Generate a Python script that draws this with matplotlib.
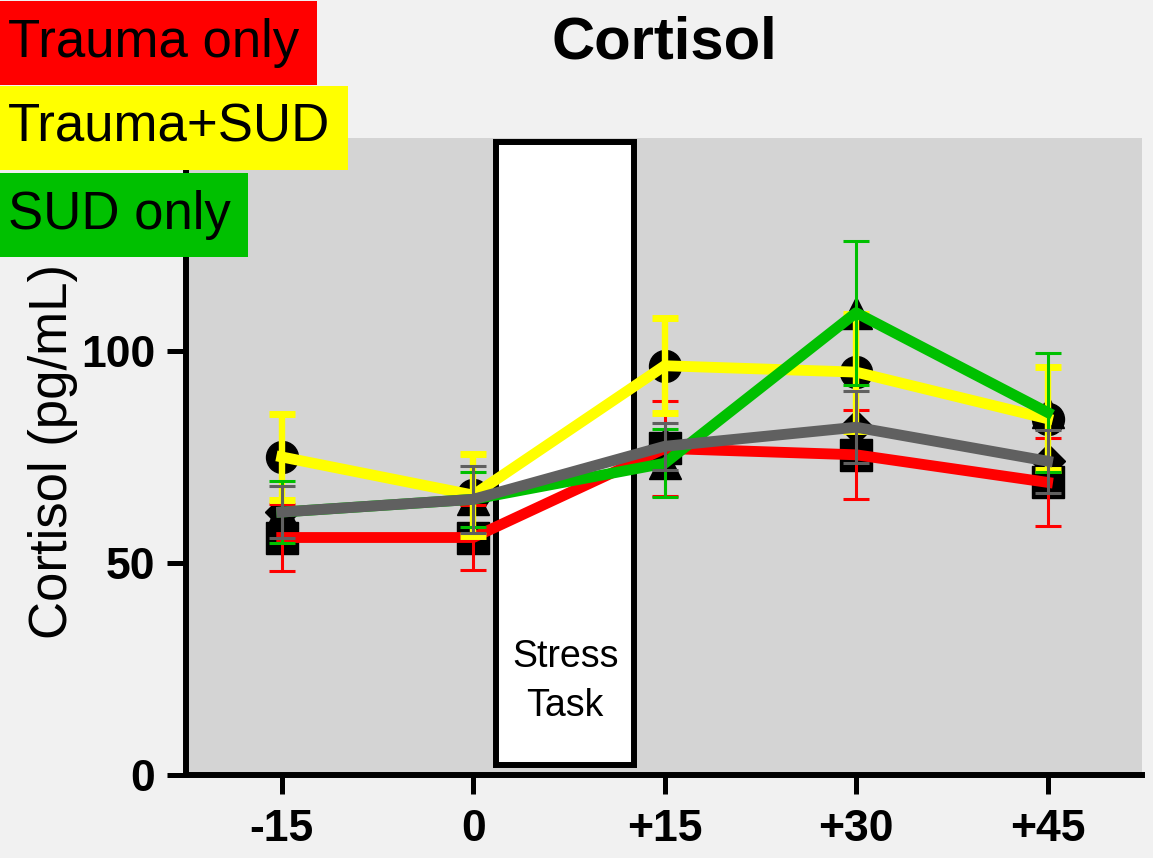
import numpy as np
import matplotlib
matplotlib.use("Agg")
import matplotlib.pyplot as plt
from matplotlib.patches import Rectangle

plt.rcParams['font.family'] = ['Liberation Sans', 'DejaVu Sans']

# sampling times relative to the stress task (minutes)
timepoints = [-15, 0, 15, 30, 45]
tick_labels = ['-15', '0', '+15', '+30', '+45']
yticks = [0, 50, 100]

# mean cortisol (pg/mL) and SEM per group
trauma_only = [56, 56, 77, 75.5, 69]
trauma_only_sem = [7.8, 7.6, 11.2, 10.5, 10.4]
trauma_sud = [75, 66, 96.5, 95, 84]
trauma_sud_sem = [10.2, 9.6, 11.2, 13.8, 12.2]
sud_only = [62, 65, 73.5, 109, 85.5]
sud_only_sem = [7.3, 6.5, 8, 17, 14]
all_subjects = [62, 65, 77.5, 82, 74]
all_subjects_sem = [6.2, 7.9, 5.5, 8.5, 7.4]

group_names = ['Trauma only', 'Trauma+SUD', 'SUD only']
group_colors = ['#ff0000', '#ffff00', '#00c000']

# stress task window (minutes)
stress_start, stress_end = 1.8, 12.6

fig = plt.figure(figsize=(11.53, 8.58), dpi=100)
fig.patch.set_facecolor('#f1f1f1')
ax = fig.add_axes([186 / 1153, 83 / 858, 956 / 1153, 637 / 858])
ax.set_facecolor('#d4d4d4')

series = [
    (trauma_only, trauma_only_sem, '#ff0000', 's', 23, 2.2, 2.2),
    (trauma_sud, trauma_sud_sem, '#ffff00', 'o', 23, 4.6, 5.0),
    (sud_only, sud_only_sem, '#00c000', '^', 23, 2.2, 2.2),
    (all_subjects, all_subjects_sem, '#606060', 'D', 17, 2.2, 2.2),
]

x = np.array(timepoints)
for i, (y, err, col, mk, ms, elw, cthk) in enumerate(series):
    # black symbols sit underneath every coloured line
    ax.plot(x, y, ls='none', marker=mk, ms=ms, mfc='black', mec='black', zorder=3)
    ax.errorbar(x, y, yerr=err, color=col, lw=7.8, elinewidth=elw,
                capsize=9.5, capthick=cthk, zorder=4 + i)

# stress task box
ax.add_patch(Rectangle((stress_start, 2.3), stress_end - stress_start, 147,
                       facecolor='white', edgecolor='black', lw=4.3, zorder=2))
ax.text((stress_start + stress_end) / 2, 22, 'Stress\nTask', ha='center', va='center',
        fontsize=27, linespacing=1.45, zorder=2.5)

ax.set_xlim(-22.5, 52.4)
ax.set_ylim(0, 150.2)
ax.set_xticks(timepoints)
ax.set_xticklabels(tick_labels)
ax.set_yticks(yticks)

for side in ['top', 'right']:
    ax.spines[side].set_visible(False)
for side in ['left', 'bottom']:
    ax.spines[side].set_linewidth(4.3)
    ax.spines[side].set_zorder(10)

ax.tick_params(axis='both', direction='out', length=13.5, width=3.6, labelsize=32)
ax.tick_params(axis='x', pad=11)
ax.tick_params(axis='y', pad=8.5)
for lbl in ax.get_xticklabels() + ax.get_yticklabels():
    lbl.set_fontweight('bold')

ax.set_ylabel('Cortisol (pg/mL)', fontsize=38)
ax.yaxis.set_label_coords(-0.113, 0.508)
ax.set_title('Cortisol', fontsize=43, fontweight='bold', pad=57)

# coloured group key in the top-left corner
baselines = [57, 142, 229]
for name, col, yb in zip(group_names, group_colors, baselines):
    fig.text(8 / 1153, 1 - yb / 858, name, fontsize=38, ha='left', va='baseline',
             bbox=dict(boxstyle='square,pad=0.33', facecolor=col, edgecolor='none'),
             zorder=20)

fig.savefig('out.png', dpi=100, facecolor=fig.get_facecolor())
